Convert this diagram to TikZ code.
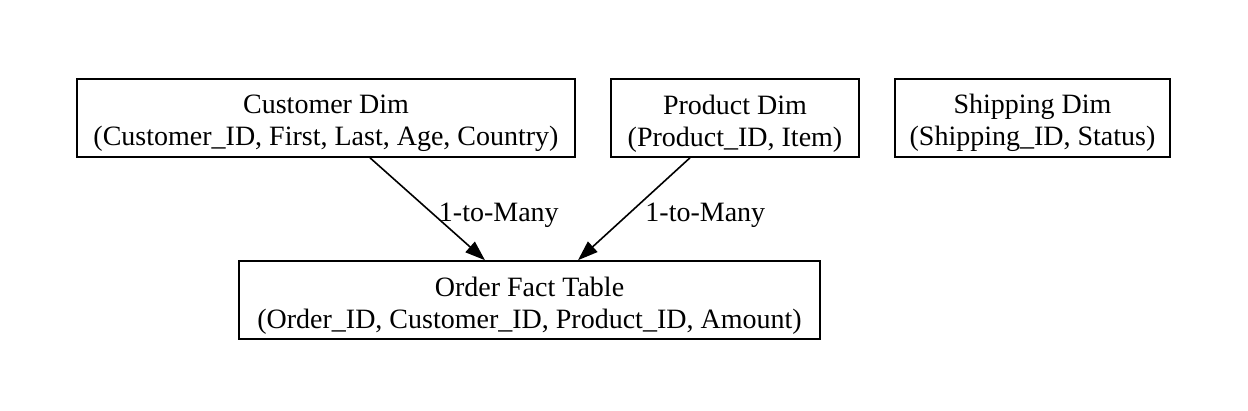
\documentclass[tikz,border=0pt]{standalone}
\usepackage{fontspec}
\setmainfont{Liberation Serif}
\usetikzlibrary{arrows.meta}
\newcommand{\topstrut}{\rule{0pt}{15pt}}
\begin{document}
\begin{tikzpicture}[x=0.5pt,y=-0.5pt,
  box/.style={draw, line width=0.8pt, inner sep=0pt, align=center,
    font=\fontsize{14pt}{16pt}\selectfont, minimum height=39pt},
  edge/.style={line width=0.8pt, -{Triangle[length=10pt,width=7pt]}},
  lbl/.style={font=\fontsize{14pt}{16pt}\selectfont, anchor=west, xshift=2pt, yshift=-3pt}]
\useasboundingbox (0,0) rectangle (1248,411);
\node[box, minimum width=249pt] (cust) at (326,118) {\topstrut Customer Dim\\(Customer\_ID, First, Last, Age, Country)};
\node[box, minimum width=124pt] (prod) at (735,118) {\topstrut Product Dim\\(Product\_ID, Item)};
\node[box, minimum width=137.5pt] (ship) at (1032.5,118) {\topstrut Shipping Dim\\(Shipping\_ID, Status)};
\node[box, minimum width=290.5pt] (order) at (529.5,300) {\topstrut Order Fact Table\\(Order\_ID, Customer\_ID, Product\_ID, Amount)};
\draw[edge] ([xshift=22pt]cust.south) -- node[lbl, midway] (l1) {1-to-Many} ([xshift=-22.25pt]order.north);
\draw[edge] ([xshift=-22.5pt]prod.south) -- node[lbl, midway] (l2) {1-to-Many} ([xshift=24.25pt]order.north);
\end{tikzpicture}
\end{document}
